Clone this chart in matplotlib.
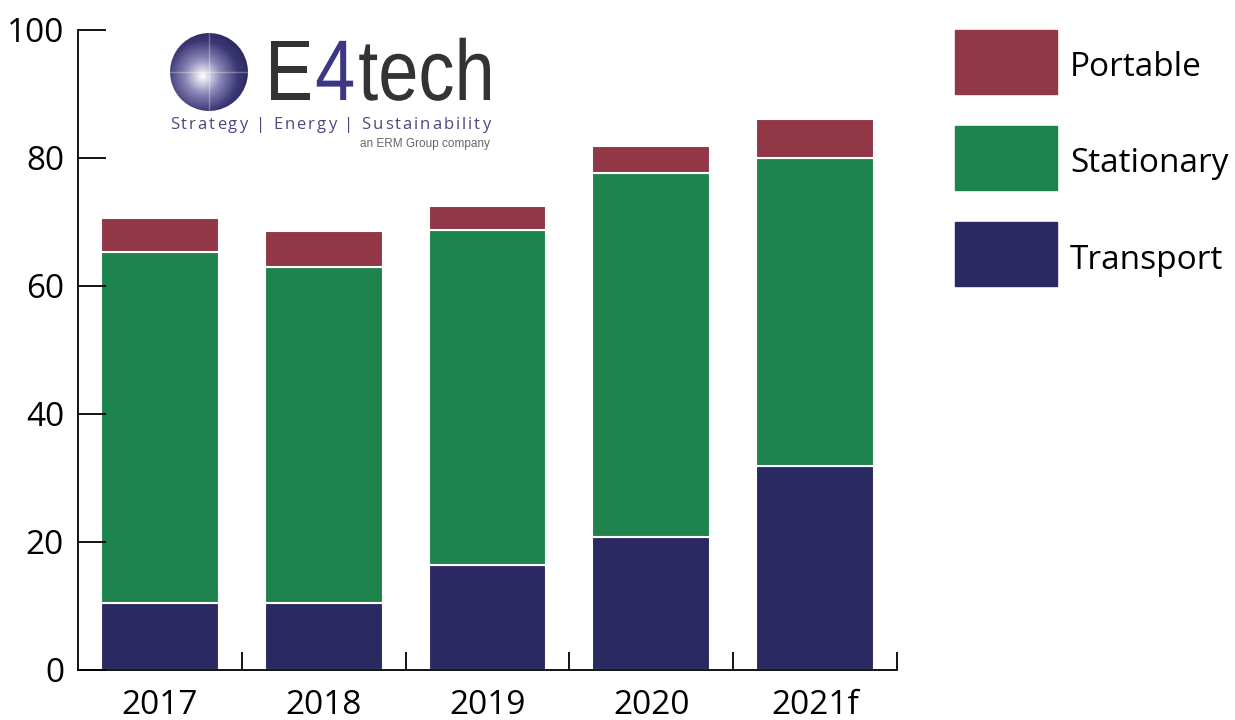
import numpy as np
import matplotlib
matplotlib.use("Agg")
import matplotlib.pyplot as plt
from matplotlib.patches import Rectangle, Circle, PathPatch
from matplotlib.textpath import TextPath
from matplotlib.font_manager import FontProperties
from matplotlib.transforms import Affine2D

plt.rcParams["font.family"] = ["Open Sans", "DejaVu Sans"]

years = ["2017", "2018", "2019", "2020", "2021f"]
transport = [10.5, 10.5, 16.4, 20.8, 31.8]
stationary = [54.8, 52.5, 52.3, 56.9, 48.2]
portable = [5.3, 5.6, 3.8, 4.2, 6.1]

series = ["Portable", "Stationary", "Transport"]
colors = {"Transport": "#2a2961", "Stationary": "#1f834d", "Portable": "#913746"}

fig = plt.figure(figsize=(12.35, 7.2), dpi=100)
ax = fig.add_axes([78 / 1235, 50 / 720, (897 - 78) / 1235, 640 / 720])

x = np.arange(len(years))
w = 0.72
ax.bar(x, transport, w, color=colors["Transport"], edgecolor="white", linewidth=1.5)
ax.bar(x, stationary, w, bottom=transport, color=colors["Stationary"], edgecolor="white", linewidth=1.5)
bot2 = np.array(transport) + np.array(stationary)
ax.bar(x, portable, w, bottom=bot2, color=colors["Portable"], edgecolor="white", linewidth=1.5)

ax.set_xlim(-0.5, 4.5)
ax.set_ylim(0, 100)
ax.set_yticks([0, 20, 40, 60, 80, 100])
ax.set_xticks(x)
ax.set_xticklabels(years)
ax.set_xticks(np.arange(0.5, 5, 1), minor=True)
ax.tick_params(axis="y", direction="in", length=20, width=1.3, labelsize=24, pad=10)
ax.tick_params(axis="x", which="major", length=0, labelsize=24, pad=14)
ax.tick_params(axis="x", which="minor", direction="in", length=13, width=1.3)
for s in ["top", "right"]:
    ax.spines[s].set_visible(False)
for s in ["left", "bottom"]:
    ax.spines[s].set_linewidth(1.3)

# 图例
for i, name in enumerate(series):
    y0 = 720 - 94 - i * 96
    fig.add_artist(Rectangle((955 / 1235, y0 / 720), 102 / 1235, 64 / 720,
                             transform=fig.transFigure, color=colors[name]))
    fig.text(1070 / 1235, (y0 + 26) / 720, name, fontsize=24, va="center", ha="left")

# logo
lax = fig.add_axes([168 / 1235, (720 - 113) / 720, 82 / 1235, 82 / 720])
yy, xx = np.mgrid[-1:1:200j, -1:1:200j]
rr = np.sqrt((xx + 0.15) ** 2 + (yy - 0.1) ** 2)
img = np.clip(rr / 1.3, 0, 1)
cmap = matplotlib.colors.LinearSegmentedColormap.from_list("sph", ["#ffffff", "#8a86b8", "#3b3775", "#26234f"])
im = lax.imshow(img, cmap=cmap, extent=(-1, 1, -1, 1))
circ = Circle((0, 0), 0.95, transform=lax.transData)
im.set_clip_path(circ)
lax.plot([-0.95, 0.95], [0, 0], color="white", lw=1, alpha=0.3)
lax.plot([0, 0], [-0.95, 0.95], color="white", lw=1, alpha=0.3)
lax.set_xlim(-1, 1)
lax.set_ylim(-1, 1)
lax.axis("off")

# E4tech 文字: 横向压缩
fp = FontProperties(family="Liberation Sans")
xpos = 0.0
parts = []
for part, c in [("E", "#333333"), ("4", "#3b3782"), ("tech", "#333333")]:
    tp = TextPath((xpos, 0), part, size=86, prop=fp)
    parts.append((tp, c))
    xpos = tp.get_extents().x1 + 6
total = parts[-1][0].get_extents().x1
sx = 225 / total
for tp, c in parts:
    tr = Affine2D().scale(sx, 1.0).translate(265, 720 - 100)
    fig.add_artist(PathPatch(tp, facecolor=c, edgecolor="none", transform=tr))

fig.canvas.draw()
r = fig.canvas.get_renderer()

# 字间距
tag = "Strategy | Energy | Sustainability"
widths = []
for ch in tag:
    t = fig.text(0, 0, ch if ch != " " else "a", fontsize=12)
    wch = t.get_window_extent(r).width
    if ch == " ":
        t2 = fig.text(0, 0, "a a", fontsize=12)
        wch = t2.get_window_extent(r).width - 2 * wch
        t2.remove()
    widths.append(wch)
    t.remove()
extra = (490 - 170 - sum(widths)) / (len(tag) - 1)
xpos = 170
for ch, wch in zip(tag, widths):
    fig.text(xpos / 1235, (720 - 125) / 720, ch, fontsize=12, color="#4a4880", va="center")
    xpos += wch + extra

fig.text(490 / 1235, (720 - 144) / 720, "an ERM Group company", fontsize=8.5,
         color="#666666", ha="right", va="center", family=["Liberation Sans", "DejaVu Sans"])

fig.savefig("out.png", dpi=100)
